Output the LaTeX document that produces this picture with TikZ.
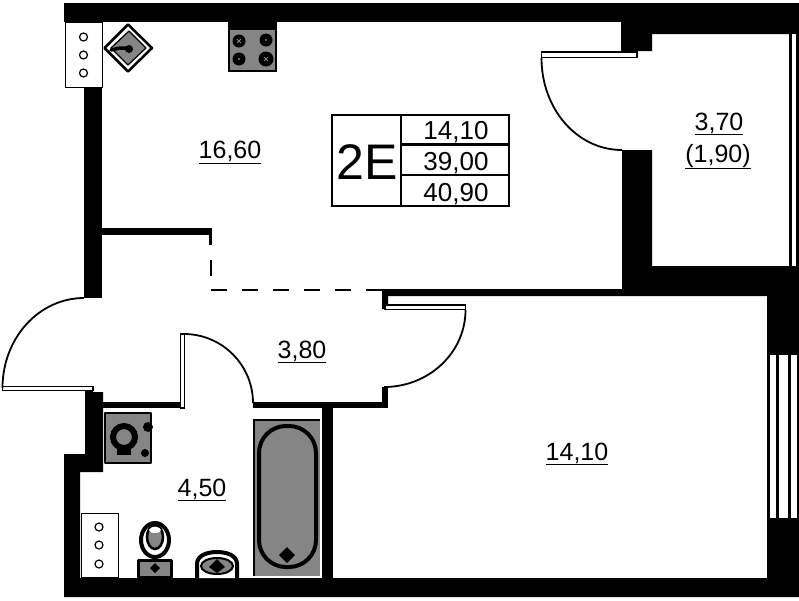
\documentclass[tikz,border=0pt]{standalone}
\usepackage{fontspec}
\setmainfont{Liberation Sans}
\definecolor{fixgray}{HTML}{858585}
\newcommand{\lbl}[1]{\underline{#1}}
\tikzset{
  x=1pt,y=-1pt,
  wall/.style={fill=black,draw=none},
  leaf/.style={fill=white,draw=black,line width=1.8pt},
  swing/.style={draw=black,line width=1.8pt},
  thinbox/.style={fill=white,draw=black,line width=1pt},
  hole/.style={fill=white,draw=black,line width=1.2pt,minimum size=8pt,inner sep=0pt,circle},
  fix/.style={fill=fixgray,draw=black,line width=2.5pt,line join=round},
  room/.style={font=\fontsize{25}{25}\selectfont,inner sep=0pt,anchor=base},
  cell/.style={font=\fontsize{26}{26}\selectfont,inner sep=0pt,anchor=base},
  burner/.style={circle,fill=black,inner sep=0pt,minimum size=13pt},
  cross/.style={draw=fixgray,line width=0.8pt}
}
\begin{document}
\begin{tikzpicture}
\useasboundingbox (0,0) rectangle (799,600);
\fill[white] (0,0) rectangle (799,600);
% walls
\fill[wall] (64,3) rectangle (799,22);
\fill[wall] (84,87) rectangle (102,298);
\fill[wall] (621,22) -- (621,51) -- (652,51) -- (652,34) -- (799,34) -- (799,22) -- cycle;
\fill[wall] (622,150) -- (652,150) -- (652,266) -- (799,266) -- (799,597) -- (64,597) -- (64,454) -- (85,454) -- (85,391) -- (93,391) -- (93,392) -- (103,392) -- (103,472) -- (80,472) -- (80,578) -- (767,578) -- (767,296) -- (388,296) -- (388,309) -- (382,309) -- (382,289) -- (622,289) -- cycle;
\fill[wall] (789,34) rectangle (799,266);
\fill[white] (792,34) rectangle (796,266);
\fill[white] (770,355) rectangle (776,518);
\fill[white] (779,355) rectangle (788,518);
\fill[white] (791,355) rectangle (797,518);
\fill[wall] (102,228) rectangle (212,235);
\fill[wall] (209,235) rectangle (212,245);
\fill[wall] (102,402) rectangle (184,408);
\fill[wall] (253,402) rectangle (388,408);
\fill[wall] (382,387) rectangle (388,408);
\fill[wall] (322,408) rectangle (333,578);
% partition lines
\draw[line width=1.8pt] (211,260) -- (211,276);
\draw[line width=1.8pt,dash pattern=on 15.5pt off 15.5pt] (211,290) -- (382,290);
% doors
\draw[leaf] (2.5,386.5) rectangle (93,390.5);
\draw[swing] (2.5,388) .. controls (2.5,338) and (39,298) .. (84,298);
\draw[leaf] (180.5,334) rectangle (184.5,408);
\draw[swing] (184,334) .. controls (222,334) and (253,365) .. (253,403);
\draw[leaf] (385,305) rectangle (465.5,309.5);
\draw[swing] (465.5,310) .. controls (465.5,352.5) and (429,387) .. (384,387);
\draw[leaf] (541.5,52) rectangle (637,57.5);
\draw[swing] (541.5,58) .. controls (541.5,109) and (577,150) .. (622,150);
% shafts
\draw[thinbox] (65.5,22) rectangle (102,87);
\node[hole] (h1) at (83.5,37) {};
\node[hole] (h2) at (83.5,55) {};
\node[hole] (h3) at (83.5,73) {};
\draw[thinbox] (81,513.5) rectangle (118,577.5);
\node[hole] (h4) at (99,527) {};
\node[hole] (h5) at (99,545) {};
\node[hole] (h6) at (99,564) {};
% kitchen sink
\draw[fill=white,draw=black,line width=2.5pt,line join=round] (128,24.5) -- (152,48) -- (128,71.5) -- (104.5,48) -- cycle;
\draw[fill=fixgray,draw=black,line width=1.2pt,line join=round] (129,31) -- (146,48) -- (128,65) -- (111,48) -- cycle;
\draw[line width=3.5pt,black,line cap=round] (111,50) -- (120,48) -- (129,48);
\fill[black] (129,49) circle (4);
% stove
\fill[black] (228,22) rectangle (277,72);
\fill[fixgray] (230,30) rectangle (275,70);
\node[burner] (b1) at (239,41) {};
\node[burner] (b2) at (266,40) {};
\node[burner] (b3) at (239,59) {};
\node[burner,minimum size=15pt] (b4) at (266,59) {};
\draw[cross] (237,39) -- (241,43) (241,39) -- (237,43);
\draw[cross] (264,57) -- (268,61) (268,57) -- (264,61);
\fill[fixgray] (266,40) circle (1.2) (239,59) circle (1.2);
% washing machine
\draw[fix] (105,413) rectangle (151,463);
\fill[black] (148,427) circle (5);
\fill[black] (145,453) circle (4);
\fill[black] (117,445) rectangle (131,455);
\draw[fill=fixgray,draw=black,line width=6pt] (124,437) circle (11);
% bathtub
\fill[fixgray] (253,420) rectangle (320,576);
\draw[line width=2pt] (320,420) -- (253.5,420) -- (253.5,576);
\draw[fill=fixgray,draw=black,line width=4pt,rounded corners=27pt] (259,426) rectangle (316,567);
\fill[black] (287,547) -- (295,555) -- (287,563) -- (279,555) -- cycle;
% toilet
\draw[fill=white,draw=black,line width=4pt] (155,540) ellipse (14 and 17);
\draw[fill=fixgray,draw=black,line width=2.5pt] (155,537) ellipse (8 and 12);
\fill[white] (155,530) ellipse (6 and 3);
\draw[fix,line width=3pt] (138,560) rectangle (171,577);
\fill[black] (155,563) -- (160,568) -- (155,573) -- (150,568) -- cycle;
% bidet
\draw[fill=white,draw=black,line width=4pt] (197,578) -- (197,564) .. controls (197,555) and (208,552) .. (217,552) .. controls (226,552) and (237,555) .. (237,564) -- (237,578);
\draw[fill=fixgray,draw=black,line width=2pt] (217,566) ellipse (16 and 8);
\fill[black] (217,559) -- (225,567) -- (217,573) -- (209,567) -- cycle;
% table
\draw[line width=2pt] (332,115) rectangle (509,205.5);
\draw[line width=2pt] (401,115) -- (401,205.5);
\draw[line width=2.4pt] (401,144.5) -- (509,144.5);
\draw[line width=1.6pt] (401,175) -- (509,175);
\node[font=\fontsize{50}{50}\selectfont,inner sep=0pt,anchor=base] (t0) at (367,179) {2E};
\node[cell] (t1) at (456,139.5) {14,10};
\node[cell] (t2) at (456,170.5) {39,00};
\node[cell] (t3) at (456,201) {40,90};
% room labels
\node[room] (r1) at (230,158.5) {\lbl{16,60}};
\node[room] (r2) at (719,130) {\lbl{3,70}};
\node[room] (r3) at (718,162) {\lbl{(1,90)}};
\node[room] (r4) at (302,358) {\lbl{3,80}};
\node[room] (r5) at (577,460) {\lbl{14,10}};
\node[room] (r6) at (202,496) {\lbl{4,50}};
\end{tikzpicture}
\end{document}
